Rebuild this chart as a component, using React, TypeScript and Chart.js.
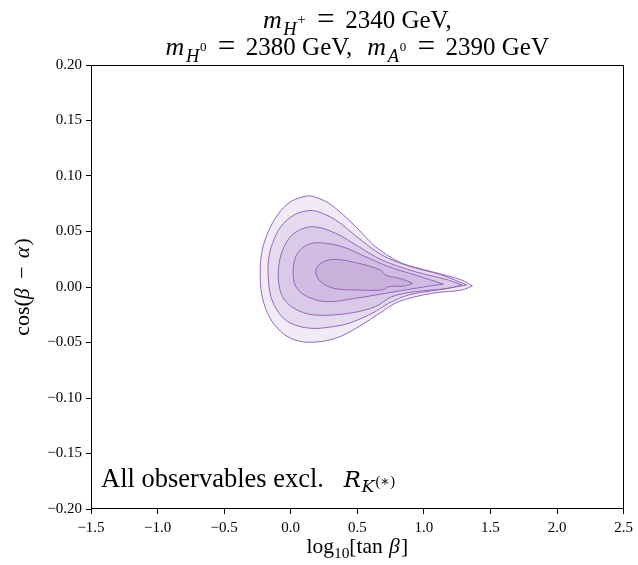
import React, { useEffect, useRef } from "react";
import { Chart, registerables } from "chart.js";

Chart.register(...registerables);

// Contour levels, outermost to innermost: [log10(tan beta), cos(beta - alpha)]
const contour1: number[][] = [
  [1.364, 0.0009], [1.284, 0.0063], [1.059, 0.0138], [0.935, 0.0177], [0.81, 0.0228],
  [0.636, 0.0363], [0.536, 0.0484], [0.436, 0.0604], [0.287, 0.0754], [0.187, 0.0808],
  [0.125, 0.082], [0.0, 0.0769], [-0.099, 0.0649], [-0.174, 0.0484], [-0.219, 0.0304],
  [-0.229, 0.0123], [-0.219, -0.0057], [-0.174, -0.0237], [-0.099, -0.0372], [0.0, -0.0462],
  [0.137, -0.0498], [0.337, -0.0462], [0.511, -0.0357], [0.685, -0.0222], [0.81, -0.0132],
  [1.059, -0.0057], [1.284, -0.0027], [1.364, 0.0009],
];
const contour2: number[][] = [
  [1.321, 0.0018], [1.134, 0.0108], [0.885, 0.0189], [0.685, 0.0288], [0.511, 0.0439],
  [0.337, 0.0604], [0.2, 0.068], [0.125, 0.0687], [0.025, 0.0649], [-0.074, 0.0543],
  [-0.137, 0.0394], [-0.167, 0.0243], [-0.169, 0.0093], [-0.149, -0.0087], [-0.087, -0.0237],
  [0.0, -0.0327], [0.15, -0.0372], [0.3, -0.036], [0.436, -0.0327], [0.611, -0.0237],
  [0.736, -0.0147], [0.885, -0.0072], [1.134, -0.0021], [1.321, 0.0018],
];
const contour3: number[][] = [
  [1.284, 0.0018], [1.184, 0.0063], [0.935, 0.0138], [0.685, 0.0243], [0.511, 0.0363],
  [0.337, 0.0484], [0.162, 0.0543], [0.025, 0.0484], [-0.05, 0.0363], [-0.087, 0.0213],
  [-0.092, 0.0063], [-0.062, -0.0087], [0.025, -0.0192], [0.175, -0.0252], [0.436, -0.0237],
  [0.636, -0.0177], [0.76, -0.0087], [0.935, -0.0042], [1.184, -0.0012], [1.284, 0.0018],
];
const contour4: number[][] = [
  [1.147, 0.0027], [0.935, 0.0108], [0.736, 0.0183], [0.561, 0.0273], [0.387, 0.0363],
  [0.2, 0.0399], [0.1, 0.0363], [0.038, 0.0273], [0.018, 0.0138], [0.038, 0.0003],
  [0.125, -0.0087], [0.274, -0.0132], [0.486, -0.0102], [0.711, -0.0057], [0.935, -0.0012],
  [1.147, 0.0027],
];
const contour5: number[][] = [
  [0.915, 0.0033], [0.835, 0.0072], [0.711, 0.0108], [0.673, 0.0153], [0.511, 0.0213],
  [0.324, 0.0249], [0.225, 0.0213], [0.187, 0.0138], [0.225, 0.0048], [0.324, -0.0012],
  [0.511, -0.0027], [0.685, -0.0027], [0.736, 0.0003], [0.86, 0.0009], [0.915, 0.0033],
];

const xTicks = [-1.5, -1.0, -0.5, 0.0, 0.5, 1.0, 1.5, 2.0, 2.5];
const yTicks = [-0.2, -0.15, -0.1, -0.05, 0.0, 0.05, 0.1, 0.15, 0.2];

const SERIF = '"Liberation Serif", "DejaVu Serif", serif';
const MATH = '"DejaVu Serif", "Liberation Serif", serif';

// t: text, it: italic, m: math-letter font, s: relative size, dy: baseline shift (em), g: extra gap after (em)
type Part = { t: string; it?: boolean; m?: boolean; s?: number; dy?: number; g?: number };

function fontFor(p: Part, size: number) {
  return `${p.it ? "italic " : ""}${size * (p.s ?? 1)}px ${p.m ? MATH : SERIF}`;
}

function adv(ctx: CanvasRenderingContext2D, p: Part, size: number) {
  ctx.font = fontFor(p, size);
  return ctx.measureText(p.t).width + (p.g ?? 0) * size;
}

function drawRich(ctx: CanvasRenderingContext2D, parts: Part[], x: number, y: number, size: number, align: "center" | "left") {
  let w = 0;
  for (const p of parts) w += adv(ctx, p, size);
  let cx = align === "center" ? x - w / 2 : x;
  ctx.textBaseline = "alphabetic";
  ctx.textAlign = "left";
  ctx.fillStyle = "#000";
  for (const p of parts) {
    ctx.font = fontFor(p, size);
    ctx.fillText(p.t, cx, y + (p.dy ?? 0) * size);
    cx += adv(ctx, p, size);
  }
}

const fmt = (v: number, d: number) => v.toFixed(d).replace("-", "\u2212");

const mass = (t: string, sup: string): Part[] => [
  { t: "m", it: true, s: 1.04, g: 0.06 },
  { t, it: true, s: 0.74, dy: 0.28, g: 0.03 },
  { t: sup, s: sup === "+" ? 0.6 : 0.52, dy: -0.17, g: 0.45 },
  { t: "=", s: 1.25, dy: 0.04, g: 0.42 },
];

const textPlugin = {
  id: "texts",
  afterDraw(chart: any) {
    const ctx: CanvasRenderingContext2D = chart.ctx;
    const a = chart.chartArea;
    ctx.save();
    // frame
    ctx.strokeStyle = "#000";
    ctx.lineWidth = 1;
    ctx.strokeRect(Math.round(a.left) + 0.5, Math.round(a.top) + 0.5, Math.round(a.right - a.left) - 1, Math.round(a.bottom - a.top) - 1);
    const cx = (a.left + a.right) / 2;
    // title
    drawRich(ctx, [
      ...mass("H", "+"),
      { t: "2340", g: 0.25 },
      { t: "GeV," },
    ], cx, 28, 25, "center");
    drawRich(ctx, [
      ...mass("H", "0"),
      { t: "2380", g: 0.25 },
      { t: "GeV,", g: 0.6 },
      ...mass("A", "0"),
      { t: "2390", g: 0.25 },
      { t: "GeV" },
    ], cx, 55, 25, "center");
    // annotation
    drawRich(ctx, [
      { t: "All observables excl.", g: 0.75 },
      { t: "R", it: true, m: true, s: 0.86, g: 0.02 },
      { t: "K", it: true, m: true, s: 0.66, dy: 0.2, g: 0.03 },
      { t: "(\u2217)", s: 0.55, dy: -0.05 },
    ], a.left + 10, 487, 26.5, "left");
    // x title
    drawRich(ctx, [
      { t: "log" },
      { t: "10", s: 0.72, dy: 0.22 },
      { t: "[tan ", g: 0.04 },
      { t: "\u03b2", it: true, g: 0.06 },
      { t: "]" },
    ], cx, 553, 21.5, "center");
    // y title
    ctx.save();
    ctx.translate(29, (a.top + a.bottom) / 2);
    ctx.rotate(-Math.PI / 2);
    drawRich(ctx, [
      { t: "cos(" },
      { t: "\u03b2", it: true, g: 0.18 },
      { t: " \u2212 ", g: 0.12 },
      { t: "\u03b1", it: true, g: 0.05 },
      { t: ")" },
    ], 0, 0, 22, "center");
    ctx.restore();
    ctx.restore();
  },
};

export default function App() {
  const ref = useRef<HTMLCanvasElement>(null);
  useEffect(() => {
    if (!ref.current) return;
    const fill = "rgba(148,103,189,0.13)";
    const line = "#9467bd";
    const mk = (pts: number[][]) => ({
      data: pts.map(([x, y]) => ({ x, y })),
      showLine: true,
      fill: "shape",
      backgroundColor: fill,
      borderColor: line,
      borderWidth: 1,
      pointRadius: 0,
      tension: 0.35,
    });
    const chart = new Chart(ref.current, {
      type: "scatter",
      data: {
        datasets: [mk(contour1), mk(contour2), mk(contour3), mk(contour4), mk(contour5)] as any,
      },
      options: {
        animation: false,
        responsive: false,
        devicePixelRatio: 1,
        layout: { padding: { top: 65, right: 12, left: 0, bottom: 0 } },
        plugins: { legend: { display: false }, tooltip: { enabled: false }, title: { display: false } },
        scales: {
          x: {
            type: "linear",
            min: -1.5,
            max: 2.5,
            afterBuildTicks: (s: any) => { s.ticks = xTicks.map((v) => ({ value: v })); },
            afterFit: (s: any) => { s.height = 56; },
            ticks: {
              callback: (v: any) => fmt(Number(v), 1),
              font: { family: SERIF, size: 15 },
              color: "#000",
              padding: 5,
              maxRotation: 0,
              autoSkip: false,
            },
            grid: { display: true, drawOnChartArea: false, drawTicks: true, tickLength: 5, tickColor: "#000", color: "#000" },
            border: { display: false },
          },
          y: {
            type: "linear",
            min: -0.2,
            max: 0.2,
            afterBuildTicks: (s: any) => { s.ticks = yTicks.map((v) => ({ value: v })); },
            afterFit: (s: any) => { s.width = 91; },
            ticks: {
              callback: (v: any) => fmt(Number(v), 2),
              font: { family: SERIF, size: 15 },
              color: "#000",
              padding: 4,
              autoSkip: false,
            },
            grid: { display: true, drawOnChartArea: false, drawTicks: true, tickLength: 5, tickColor: "#000", color: "#000" },
            border: { display: false },
          },
        },
      } as any,
      plugins: [textPlugin],
    });
    return () => chart.destroy();
  }, []);
  return (
    <div style={{ position: "fixed", left: 0, top: 0, width: 638, height: 565, background: "#fff" }}>
      <canvas ref={ref} width={638} height={565} style={{ width: 638, height: 565 }} />
    </div>
  );
}
